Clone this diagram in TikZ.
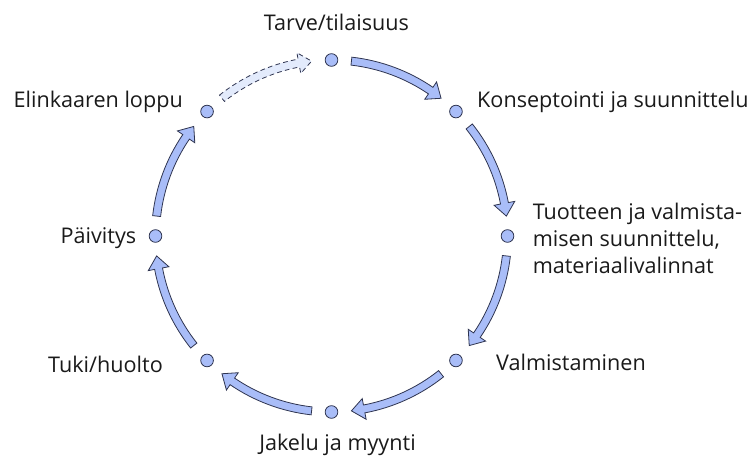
\documentclass[tikz,border=0pt]{standalone}
\usepackage{fontspec}
\setmainfont{Open Sans}
\usetikzlibrary{positioning, calc}
\definecolor{cyblue}{HTML}{A9BDF8}
\definecolor{cyline}{HTML}{2E3450}
\definecolor{cyghost}{HTML}{E3EBFC}
\definecolor{cytext}{HTML}{1A1A1A}

% curved block arrow on the ring: #2 = tail angle, #3 = tip angle
\newcommand{\ringarrow}[3][]{%
  \draw[#1] (#2:180) arc[start angle=#2, end angle=#3+4.2, radius=180]
    -- (#3+4.2:186.5) -- (#3:176) -- (#3+4.2:165.5) -- (#3+4.2:172)
    arc[start angle=#3+4.2, end angle=#2, radius=172] -- cycle;}

\begin{document}
\begin{tikzpicture}[x=0.75pt, y=0.75pt,
    font=\fontsize{16.2}{20.25}\selectfont, text=cytext,
    dotnode/.style={circle, fill=cyblue, draw=cyline, line width=0.6pt,
      minimum size=9.5pt, inner sep=0pt},
    lbl/.style={inner sep=0pt},
    arrowbody/.style={fill=cyblue, draw=cyline, line width=0.6pt},
    ghostarrow/.style={fill=cyghost, draw=cyline, line width=0.6pt,
      dash pattern=on 3.5pt off 2.5pt}]
  \useasboundingbox (0,0) rectangle (752,462);
  \begin{scope}[shift={(331.5,226)}]
    \foreach \a in {90,45,...,-180}
      \ringarrow[arrowbody]{\a-6.5}{\a-45+6.5};
    \ringarrow[ghostarrow]{128.5}{96.5};
    \foreach \i in {0,...,7}
      \node[dotnode] (p\i) at ({90-45*\i}:176) {};
  \end{scope}

  \node[lbl, anchor=base] (l0) at ([shift={(5,30)}]p0) {Tarve/tilaisuus};
  \node[lbl, anchor=base west] (l1) at ([shift={(21,4)}]p1) {Konseptointi ja suunnittelu};
  \node[lbl, anchor=west, align=left] (l2) at ([shift={(25,-2)}]p2)
    {Tuotteen ja valmista-\\misen suunnittelu,\\materiaalivalinnat};
  \node[lbl, anchor=base west] (l3) at ([shift={(40,-10)}]p3) {Valmistaminen};
  \node[lbl, anchor=base] (l4) at ([shift={(6,-38)}]p4) {Jakelu ja myynti};
  \node[lbl, anchor=base east] (l5) at ([shift={(-44,-12)}]p5) {Tuki/huolto};
  \node[lbl, anchor=base east] (l6) at ([shift={(-19,-7)}]p6) {Päivitys};
  \node[lbl, anchor=base east] (l7) at ([shift={(-24,4)}]p7) {Elinkaaren loppu};
\end{tikzpicture}
\end{document}
